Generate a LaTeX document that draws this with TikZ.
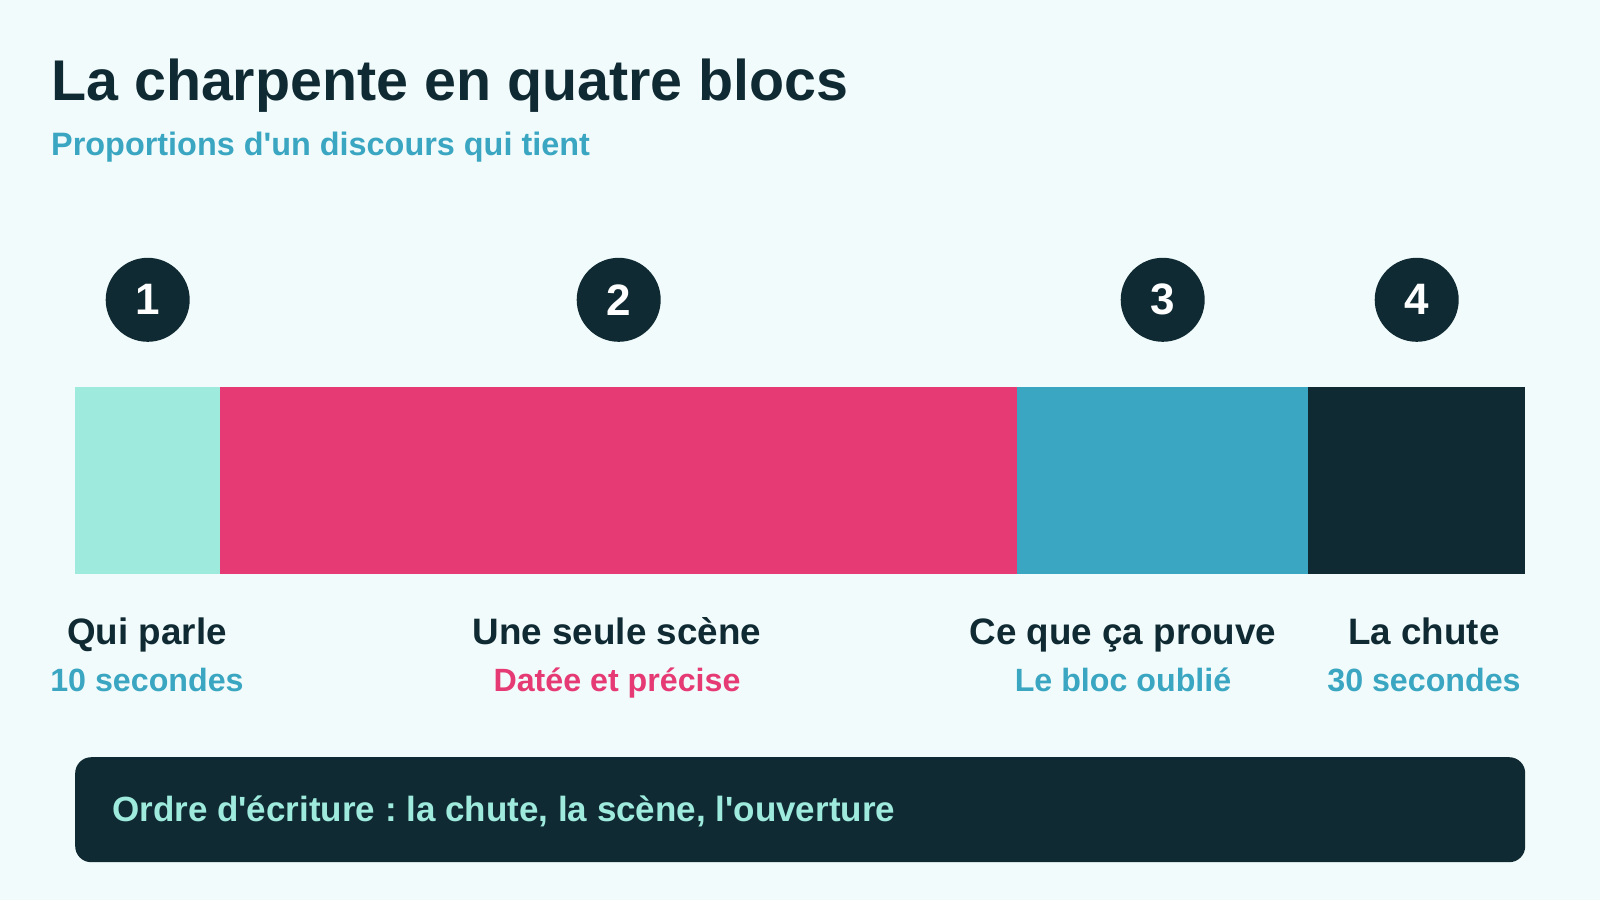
\documentclass[tikz,border=0pt]{standalone}
\usepackage{fontspec}
\setmainfont{Liberation Sans}
\usetikzlibrary{positioning}
\frenchspacing

\definecolor{fond}{HTML}{F2FBFB}
\definecolor{nuit}{HTML}{0F2A33}
\definecolor{menthe}{HTML}{9EEADD}
\definecolor{rose}{HTML}{E63A74}
\definecolor{bleu}{HTML}{3AA6C2}

\newcommand{\taille}[1]{\fontsize{#1}{#1}\selectfont\bfseries}
\newcommand{\apos}{\textquotesingle}

\tikzset{
	bloc/.style={anchor=north west, inner sep=0pt, minimum height=187pt},
	pastille/.style={circle, fill=nuit, text=white, inner sep=0pt, minimum size=84pt, font=\taille{44}},
	etiquette/.style={anchor=base, text=nuit, inner sep=0pt, font=\taille{36.8}},
	duree/.style={anchor=base, inner sep=0pt, font=\taille{32.2}}
}

\begin{document}
\begin{tikzpicture}[x=1pt,y=-1pt]
		\fill[fond] (0,0) rectangle (1600,900);
		
		\node[anchor=base west, inner sep=0pt, text=nuit, font=\taille{57.4}] (titre) at (51,100) {La charpente en quatre blocs};
		\node[anchor=base west, inner sep=0pt, text=bleu, font=\taille{32.4}] (soustitre) at (51,155) {Proportions d\apos un discours qui tient};
		
		\foreach \i/\x/\w/\c in {1/75/145/menthe, 2/220/797/rose, 3/1017/291/bleu, 4/1308/217/nuit}{
			\node[bloc, fill=\c, minimum width=\w pt] (bloc\i) at (\x,387) {};
			\node[pastille, above=45pt of bloc\i] (num\i) {\i};
		}
		
		\node[etiquette] (nom1) at (147,644) {Qui parle};
		\node[etiquette] (nom2) at (617,644) {Une seule scène};
		\node[etiquette] (nom3) at (1123,644) {Ce que ça prouve};
		\node[etiquette] (nom4) at (1424,644) {La chute};
		\node[duree, text=bleu] (duree1) at (147,691) {10 secondes};
		\node[duree, text=rose] (duree2) at (617,691) {Datée et précise};
		\node[duree, text=bleu] (duree3) at (1123,691) {Le bloc oublié};
		\node[duree, text=bleu] (duree4) at (1424,691) {30 secondes};
		
		\node[anchor=north west, fill=nuit, rounded corners=16pt, minimum width=1450pt, minimum height=105pt, inner sep=0pt] (bandeau) at (75,757) {};
		\node[anchor=base west, inner sep=0pt, text=menthe, font=\taille{35}] (ordre) at (112,821) {Ordre d\apos écriture : la chute, la scène, l\apos ouverture};
\end{tikzpicture}
\end{document}
